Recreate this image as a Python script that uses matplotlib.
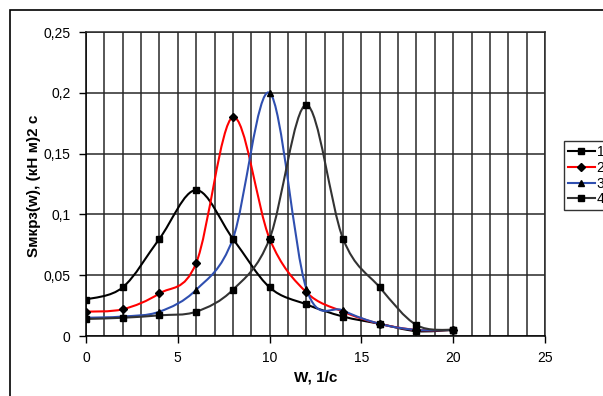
import numpy as np
import matplotlib
matplotlib.use("Agg")
import matplotlib.pyplot as plt
from matplotlib.path import Path
from matplotlib.patches import PathPatch, Rectangle
from matplotlib.lines import Line2D
from matplotlib.ticker import FuncFormatter, MultipleLocator

plt.rcParams['font.family'] = ['Liberation Sans', 'DejaVu Sans']

w = [0, 2, 4, 6, 8, 10, 12, 14, 16, 18, 20]
s1 = [0.030, 0.040, 0.080, 0.120, 0.080, 0.040, 0.026, 0.016, 0.010, 0.004, 0.005]
s2 = [0.020, 0.022, 0.035, 0.060, 0.180, 0.080, 0.036, 0.020, 0.010, 0.005, 0.005]
s3 = [0.015, 0.016, 0.020, 0.038, 0.080, 0.200, 0.039, 0.021, 0.010, 0.005, 0.005]
s4 = [0.014, 0.015, 0.017, 0.020, 0.038, 0.080, 0.190, 0.080, 0.040, 0.009, 0.005]
labels = ['1', '2', '3', '4']
colors = ['#000000', '#ff0000', '#2f4fb0', '#333333']
markers = ['s', 'D', '^', 's']
msizes = [5, 4, 5, 5]

fig = plt.figure(figsize=(6.03, 3.96), dpi=100)
fig.patches.append(Rectangle((10/603, -0.05), 1.0, (396-10)/396 + 0.05,
                             transform=fig.transFigure, fill=False,
                             edgecolor='black', linewidth=1.2))
ax = fig.add_axes([86/603, 60/396, 459/603, 304/396])
ax.set_xlim(0, 25)
ax.set_ylim(0, 0.25)


def smooth_path(x, y):
    pts = np.column_stack([x, y]).astype(float)
    n = len(pts)
    verts = [pts[0]]
    codes = [Path.MOVETO]
    for i in range(n - 1):
        p0 = pts[i - 1] if i > 0 else pts[i]
        p1 = pts[i]
        p2 = pts[i + 1]
        p3 = pts[i + 2] if i + 2 < n else pts[i + 1]
        c1 = p1 + (p2 - p0) / 6.0
        c2 = p2 - (p3 - p1) / 6.0
        verts += [c1, c2, p2]
        codes += [Path.CURVE4] * 3
    return Path(verts, codes)


for ys, c, m, ms in zip([s1, s2, s3, s4], colors, markers, msizes):
    ax.add_patch(PathPatch(smooth_path(w, ys), facecolor='none', edgecolor=c,
                           linewidth=1.5, zorder=3))
    ax.plot(w, ys, linestyle='none', marker=m, color='black', markersize=ms, zorder=4)

ax.xaxis.set_major_locator(MultipleLocator(5))
ax.xaxis.set_minor_locator(MultipleLocator(1))
ax.yaxis.set_major_locator(MultipleLocator(0.05))
ax.grid(True, which='both', axis='x', color='#282828', linewidth=1.1)
ax.grid(True, which='major', axis='y', color='#282828', linewidth=1.1)
ax.tick_params(which='minor', length=0)
ax.tick_params(which='major', direction='out', length=5, width=1, labelsize=10, pad=6)
ax.yaxis.set_major_formatter(FuncFormatter(lambda v, p: ('%g' % round(v, 2)).replace('.', ',')))
for sp in ax.spines.values():
    sp.set_linewidth(1.1)
    sp.set_color('black')
ax.spines['top'].set_color('#282828')
ax.spines['right'].set_color('#282828')
ax.set_axisbelow(True)

ax.set_xlabel('W, 1/c', fontsize=11, fontweight='bold', va='center')
ax.xaxis.set_label_coords((316 - 86) / 459, -(377 - 336) / 304)
ax.set_ylabel('Sмкрз(w), (кН м)2 с', fontsize=11, fontweight='bold', va='center')
ax.yaxis.set_label_coords(-(86 - 34) / 459, (336 - 186) / 304)

handles = [Line2D([0], [0], color=c, marker=m, markerfacecolor='black',
                  markeredgecolor='black', markersize=ms, linewidth=1.5)
           for c, m, ms in zip(colors, markers, msizes)]
leg = fig.legend(handles, labels, loc='upper left', bbox_to_anchor=(564/603, 1 - 141/396),
                 frameon=True, fancybox=False, edgecolor='black', fontsize=10,
                 handlelength=1.9, handletextpad=0.15, borderpad=0.3, labelspacing=0.12,
                 borderaxespad=0)
leg.get_frame().set_linewidth(1.0)

fig.savefig('out.png', dpi=100)
